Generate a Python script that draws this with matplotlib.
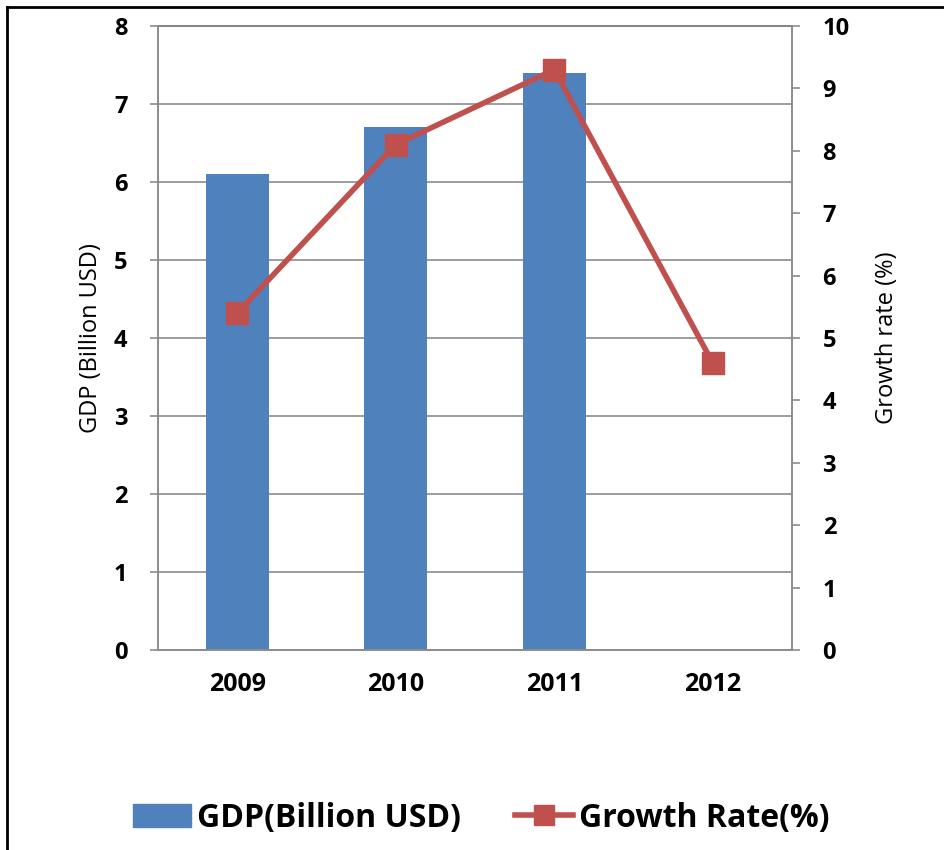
import matplotlib
matplotlib.use("Agg")
import matplotlib.pyplot as plt
from matplotlib.lines import Line2D
import numpy as np

years = ["2009", "2010", "2011", "2012"]
gdp = [6.1, 6.7, 7.4, np.nan]          # billion USD, no bar for 2012
growth = [5.4, 8.1, 9.3, 4.6]          # percent

BAR_BLUE = "#4F81BD"
LINE_RED = "#C0504D"
GRID_GRAY = "#8C8C8C"

plt.rcParams["font.family"] = ["Open Sans", "DejaVu Sans"]

fig = plt.figure(figsize=(9.44, 8.5), dpi=100)
W, H = 944, 850
ax = fig.add_axes([158 / W, 1 - 650 / H, (792 - 158) / W, (650 - 26) / H])
ax2 = ax.twinx()

x = np.arange(len(years))
ax.bar(x, gdp, width=0.4, color=BAR_BLUE, zorder=2)
ax.set_xlim(-0.5, len(years) - 0.5)
ax.set_ylim(0, 8)
ax.set_yticks(range(0, 9))
ax.yaxis.grid(True, color=GRID_GRAY, linewidth=1.2, zorder=0)
ax.set_axisbelow(True)
ax.set_xticks(x)
ax.set_xticklabels(years)

ax2.plot(x, growth, color=LINE_RED, linewidth=4, marker="s", markersize=16,
         zorder=3)
ax2.set_ylim(0, 10)
ax2.set_yticks(range(0, 11))

for a in (ax, ax2):
    for side in ("left", "right", "bottom", "top"):
        a.spines[side].set_color(GRID_GRAY)
        a.spines[side].set_linewidth(1.2)
    a.tick_params(axis="y", length=6, width=1.2, color=GRID_GRAY, pad=16,
                  labelsize=17)
    for lbl in a.get_yticklabels():
        lbl.set_fontweight("bold")
ax.spines["top"].set_color("#555555")
ax.tick_params(axis="x", length=0, pad=16, labelsize=18)
for lbl in ax.get_xticklabels():
    lbl.set_fontweight("bold")

ax.set_ylabel("GDP (Billion USD)", fontsize=17, labelpad=8)
ax2.set_ylabel("Growth rate (%)", fontsize=17, labelpad=18)

handles = [
    plt.Rectangle((0, 0), 1, 1, color=BAR_BLUE),
    Line2D([0], [0], color=LINE_RED, linewidth=4, marker="s", markersize=14),
]
fig.legend(handles, ["GDP(Billion USD)", "Growth Rate(%)"],
           loc="center", bbox_to_anchor=(0.51, 1 - 818 / H), ncol=2,
           frameon=False, prop={"size": 23, "weight": "bold"},
           handlelength=1.8, columnspacing=1.7, handletextpad=0.2)

# outer frame (left and top edges visible in the original)
fig.add_artist(Line2D([7 / W, 7 / W], [0, 1 - 7 / H], color="black",
                      linewidth=2, transform=fig.transFigure))
fig.add_artist(Line2D([7 / W, 1], [1 - 7 / H, 1 - 7 / H], color="black",
                      linewidth=2, transform=fig.transFigure))

fig.savefig("out.png", dpi=100)
